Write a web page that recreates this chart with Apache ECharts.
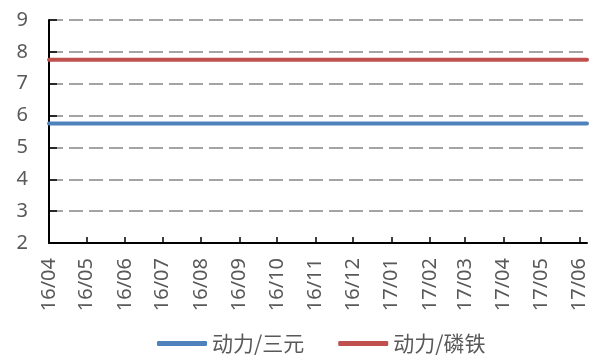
<!DOCTYPE html>
<html>
<head>
<meta charset="utf-8">
<script src="https://cdn.jsdelivr.net/npm/echarts@6/dist/echarts.min.js"></script>
<style>html,body{margin:0;padding:0;background:#fff}#c{width:593px;height:356px}</style>
</head>
<body>
<div id="c"></div>
<script>
const dates = ['2016-04-01','2016-05-01','2016-06-01','2016-07-01','2016-08-01','2016-09-01','2016-10-01','2016-11-01','2016-12-01','2017-01-01','2017-02-01','2017-03-01','2017-04-01','2017-05-01','2017-06-01','2017-06-07'];
const sanyuan = [5.75,5.75,5.75,5.75,5.75,5.75,5.75,5.75,5.75,5.75,5.75,5.75,5.75,5.75,5.75,5.75];
const linTie = [7.75,7.75,7.75,7.75,7.75,7.75,7.75,7.75,7.75,7.75,7.75,7.75,7.75,7.75,7.75,7.75];
const seriesNames = ['动力/三元','动力/磷铁'];
const yMin = 2, yMax = 9, yStep = 1;

const chart = echarts.init(document.getElementById('c'));
const font = 'Noto Sans, sans-serif';
const toPairs = vals => dates.map((d,i)=>[d, vals[i]]);
chart.setOption({
  animation:false,
  grid:{left:49,right:6,top:20,bottom:113},
  legend:{
    data:seriesNames, left:152, top:328, itemWidth:50, itemHeight:5, itemGap:34,
    icon:'roundRect',
    textStyle:{fontFamily:'Noto Sans CJK SC',fontSize:21,color:'#595959'}
  },
  xAxis:{
    type:'time',
    min:dates[0], max:dates[dates.length-1],
    minInterval:28*86400000, maxInterval:31*86400000,
    axisLine:{lineStyle:{color:'#000',width:2}},
    axisTick:{inside:true,length:6,lineStyle:{color:'#000',width:1.5}},
    splitLine:{show:false},
    axisLabel:{
      rotate:90, color:'#595959', fontSize:20, fontFamily:font, margin:15,
      showMinLabel:true, showMaxLabel:false, hideOverlap:false,
      formatter:function(v){const d=new Date(v);return String(d.getFullYear()).slice(2)+'/'+String(d.getMonth()+1).padStart(2,'0');}
    }
  },
  yAxis:{
    type:'value', min:yMin, max:yMax, interval:yStep,
    axisLine:{show:true,lineStyle:{color:'#000',width:2}},
    axisTick:{show:true,inside:true,length:8,lineStyle:{color:'#000',width:1.5}},
    axisLabel:{color:'#595959',fontSize:20,fontFamily:font,margin:21},
    splitLine:{lineStyle:{color:'#878787',width:1.5,type:[14,6]}}
  },
  series:[
    {name:seriesNames[0],type:'line',data:toPairs(sanyuan),showSymbol:false,lineStyle:{color:'#4F81BD',width:4,cap:'round'},itemStyle:{color:'#4F81BD'}},
    {name:seriesNames[1],type:'line',data:toPairs(linTie),showSymbol:false,lineStyle:{color:'#C0504D',width:4,cap:'round'},itemStyle:{color:'#C0504D'}}
  ]
});
</script>
</body>
</html>
